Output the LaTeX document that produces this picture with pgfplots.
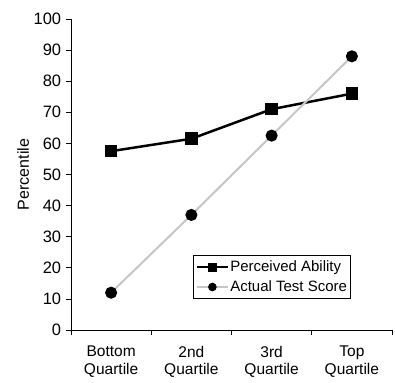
\documentclass[border=0pt]{standalone}
\usepackage{pgfplots}
\pgfplotsset{compat=1.18}
\usepackage{fontspec}
\setmainfont{Liberation Sans}
\begin{document}
\fontsize{14}{16}\selectfont
\begin{tikzpicture}
\begin{axis}[
  name=ax,
  scale only axis,
  width=321pt, height=311pt,
  xmin=-0.5, xmax=3.5,
  ymin=0, ymax=100,
  axis lines*=left,
  axis line style={line width=0.8pt},
  ytick={0,10,...,100},
  xtick={0,1,2,3},
  xticklabels={{Bottom\\Quartile},{2nd\\Quartile},{3rd\\Quartile},{Top\\Quartile}},
  xticklabel style={align=center, font=\fontsize{15.5}{17.5}\selectfont, yshift=-6pt},
  yticklabel style={font=\fontsize{16.5}{17}\selectfont},
  major x tick style={draw=none},
  minor xtick={-0.5,0.5,1.5,2.5,3.5},
  tick align=outside,
  tick style={black, line width=0.8pt},
  major tick length=5pt,
  minor tick length=5pt,
  /pgf/number format/assume math mode=true,
  ylabel={Percentile},
  ylabel style={font=\fontsize{16}{17}\selectfont, yshift=-5pt},
  legend style={at={(0.38,0.241)}, anchor=north west, draw=black, line width=1pt,
    font=\fontsize{15}{17}\selectfont, inner xsep=2pt, inner ysep=4pt, row sep=5pt,
    nodes={inner sep=1pt}},
  legend cell align=left,
  legend image code/.code={%
    \draw[mark repeat=2,mark phase=2,#1,every mark/.append style={scale=0.65}]
      plot coordinates {(0cm,0cm) (0.55cm,0cm) (1.1cm,0cm)};},
  clip=false,
]
\addplot[black, line width=2.5pt, mark=square*, mark size=5pt] coordinates {
  (0,57.5) (1,61.5) (2,71) (3,76)};
\addlegendentry{Perceived Ability}
\addplot[gray!45, line width=2pt, mark=*, mark size=5pt, mark options={fill=black, draw=black}] coordinates {
  (0,12) (1,37) (2,62.5) (3,88)};
\addlegendentry{Actual Test Score}
\end{axis}
\path ([xshift=-71pt,yshift=-51pt]ax.south west) rectangle ([xshift=3pt,yshift=19pt]ax.north east);
\end{tikzpicture}
\end{document}
